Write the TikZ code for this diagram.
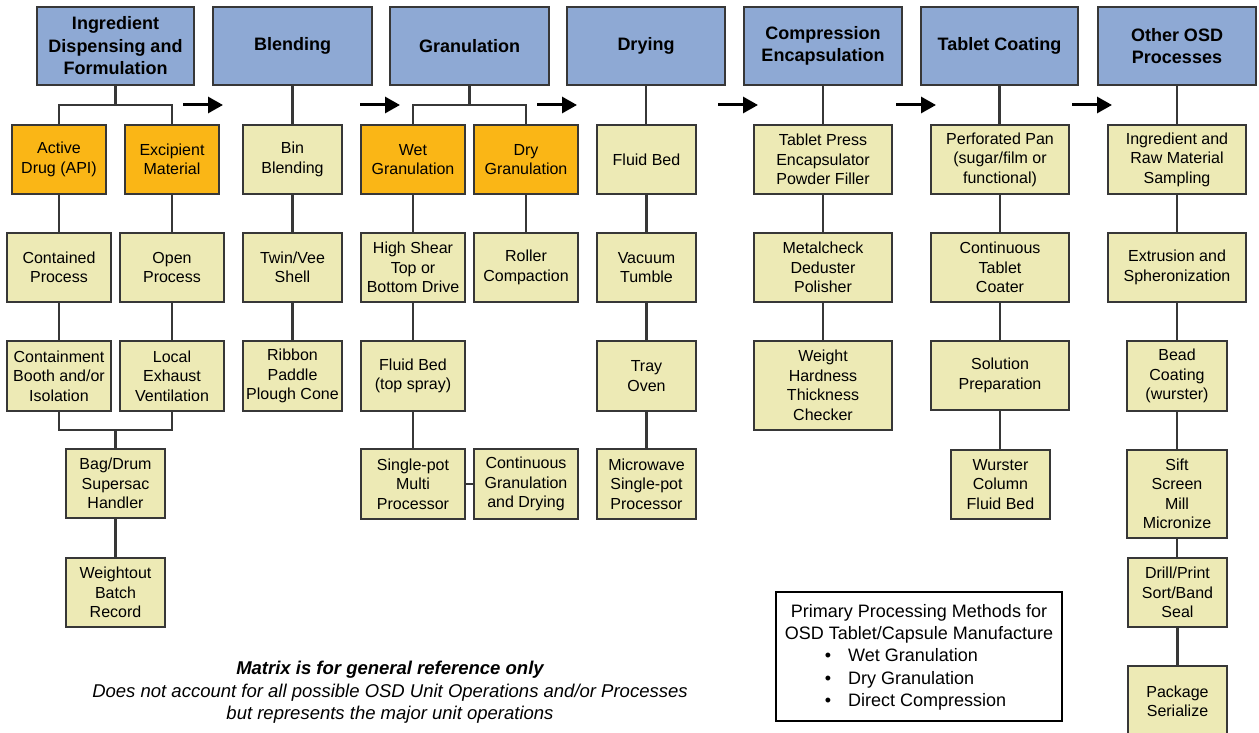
\documentclass[tikz,border=0pt]{standalone}
\usepackage{fontspec}
\setmainfont{Liberation Sans}
\usetikzlibrary{arrows.meta}
\definecolor{hblue}{RGB}{142,169,212}
\definecolor{horange}{RGB}{250,182,22}
\definecolor{hyellow}{RGB}{237,234,181}
\definecolor{hline}{RGB}{55,55,55}
\newcommand{\bx}[7]{\node[#6, minimum width={#4-#2}, minimum height={#5-#3}] (#1) at ({(#2+#4)/2},{(#3+#5)/2}) {#7};}
\newcommand{\vc}[2]{\draw[conn] (#1.south) -- (#1.south |- #2.north);}
\begin{document}
\begin{tikzpicture}[x=1pt,y=-1pt,
  base/.style={draw=hline, line width=1.4pt, inner sep=0pt, align=center, font=\fontsize{16}{19.5}\selectfont},
  hdr/.style={base, fill=hblue, font=\fontsize{18}{22.5}\selectfont\bfseries},
  org/.style={base, fill=horange},
  yel/.style={base, fill=hyellow},
  conn/.style={draw=hline, line width=2.1pt},
  arr/.style={line width=3pt, -{Triangle[length=15pt,width=16pt]}},
  txt/.style={inner sep=0pt, anchor=base}]
\useasboundingbox (0,0) rectangle (1259,733);
\fill[white] (0,0) rectangle (1259,733);
% headers
\bx{h1}{37}{7}{194}{85}{hdr}{Ingredient\\Dispensing and\\Formulation}
\bx{h2}{213}{7}{372}{85}{hdr}{Blending}
\bx{h3}{390}{7}{549}{85}{hdr}{Granulation}
\bx{h4}{567}{7}{725}{85}{hdr}{Drying}
\bx{h5}{744}{7}{902}{85}{hdr}{Compression\\Encapsulation}
\bx{h6}{921}{7}{1078}{85}{hdr}{Tablet Coating}
\bx{h7}{1098}{7}{1256}{85}{hdr}{Other OSD\\Processes}
% column 1
\bx{act}{12}{125}{106}{194}{org}{Active\\Drug (API)}
\bx{exc}{125}{125}{219}{194}{org}{Excipient\\Material}
\bx{cont}{7}{233}{111}{302}{yel}{Contained\\Process}
\bx{open}{120}{233}{224}{302}{yel}{Open\\Process}
\bx{booth}{7}{341}{111}{411}{yel}{Containment\\Booth and/or\\Isolation}
\bx{lev}{120}{341}{224}{411}{yel}{Local\\Exhaust\\Ventilation}
\bx{bag}{66}{449}{165}{518}{yel}{Bag/Drum\\Supersac\\Handler}
\bx{wgt}{66}{558}{165}{627}{yel}{Weightout\\Batch\\Record}
% column 2
\bx{bin}{243}{125}{342}{194}{yel}{Bin\\Blending}
\bx{twin}{243}{233}{342}{302}{yel}{Twin/Vee\\Shell}
\bx{rib}{243}{341}{342}{411}{yel}{Ribbon\\Paddle\\Plough Cone}
% column 3
\bx{wet}{361}{125}{465}{194}{org}{Wet\\Granulation}
\bx{dry}{474}{125}{578}{194}{org}{Dry\\Granulation}
\bx{hs}{361}{233}{465}{302}{yel}{High Shear\\Top or\\Bottom Drive}
\bx{roll}{474}{233}{578}{302}{yel}{Roller\\Compaction}
\bx{fbt}{361}{341}{465}{411}{yel}{Fluid Bed\\(top spray)}
\bx{spot}{361}{449}{465}{519}{yel}{Single-pot\\Multi\\Processor}
\bx{cgd}{474}{449}{578}{519}{yel}{Continuous\\Granulation\\and Drying}
% column 4
\bx{fb}{597}{125}{696}{194}{yel}{Fluid Bed}
\bx{vac}{597}{233}{696}{302}{yel}{Vacuum\\Tumble}
\bx{tray}{597}{341}{696}{411}{yel}{Tray\\Oven}
\bx{mw}{597}{449}{696}{519}{yel}{Microwave\\Single-pot\\Processor}
% column 5
\bx{tp}{754}{125}{892}{194}{yel}{Tablet Press\\Encapsulator\\Powder Filler}
\bx{mc}{754}{233}{892}{302}{yel}{Metalcheck\\Deduster\\Polisher}
\bx{whc}{754}{341}{892}{430}{yel}{Weight\\Hardness\\Thickness\\Checker}
% column 6
\bx{pp}{931}{125}{1069}{194}{yel}{Perforated Pan\\(sugar/film or\\functional)}
\bx{ctc}{931}{233}{1069}{302}{yel}{Continuous\\Tablet\\Coater}
\bx{sol}{931}{341}{1069}{410}{yel}{Solution\\Preparation}
\bx{wur}{951}{450}{1050}{519}{yel}{Wurster\\Column\\Fluid Bed}
% column 7
\bx{irm}{1108}{125}{1246}{194}{yel}{Ingredient and\\Raw Material\\Sampling}
\bx{ext}{1108}{233}{1246}{302}{yel}{Extrusion and\\Spheronization}
\bx{bead}{1127}{341}{1227}{411}{yel}{Bead\\Coating\\(wurster)}
\bx{sift}{1127}{450}{1227}{538}{yel}{Sift\\Screen\\Mill\\Micronize}
\bx{drill}{1128}{558}{1227}{627}{yel}{Drill/Print\\Sort/Band\\Seal}
\bx{pkg}{1128}{666}{1227}{737}{yel}{Package\\Serialize}
% connectors column 1
\coordinate (b1) at (115.5,105);
\draw[conn] (h1.south) -- (b1);
\draw[conn] (act.north) |- (b1) -| (exc.north);
\vc{act}{cont} \vc{exc}{open} \vc{cont}{booth} \vc{open}{lev}
\coordinate (m1) at (115.5,430);
\draw[conn] (booth.south) |- (m1) -| (lev.south);
\draw[conn] (m1) -- (bag.north);
\vc{bag}{wgt}
% column 2
\vc{h2}{bin} \vc{bin}{twin} \vc{twin}{rib}
% column 3
\coordinate (b3) at (469.5,105);
\draw[conn] (h3.south) -- (b3);
\draw[conn] (wet.north) |- (b3) -| (dry.north);
\vc{wet}{hs} \vc{hs}{fbt} \vc{fbt}{spot} \vc{dry}{roll}
\draw[conn] (spot.east) -- (cgd.west);
% column 4
\vc{h4}{fb} \vc{fb}{vac} \vc{vac}{tray} \vc{tray}{mw}
% column 5
\vc{h5}{tp} \vc{tp}{mc} \vc{mc}{whc}
% column 6
\vc{h6}{pp} \vc{pp}{ctc} \vc{ctc}{sol} \vc{sol}{wur}
% column 7
\vc{h7}{irm} \vc{irm}{ext} \vc{ext}{bead} \vc{bead}{sift} \vc{sift}{drill} \vc{drill}{pkg}
% flow arrows
\coordinate (a1s) at (183,105); \coordinate (a1e) at (223,105);
\coordinate (a2s) at (360,105); \coordinate (a2e) at (400,105);
\coordinate (a3s) at (537,105); \coordinate (a3e) at (577,105);
\coordinate (a4s) at (718,105); \coordinate (a4e) at (758,105);
\coordinate (a5s) at (896,105); \coordinate (a5e) at (936,105);
\coordinate (a6s) at (1072,105); \coordinate (a6e) at (1112,105);
\draw[arr] (a1s) -- (a1e);
\draw[arr] (a2s) -- (a2e);
\draw[arr] (a3s) -- (a3e);
\draw[arr] (a4s) -- (a4e);
\draw[arr] (a5s) -- (a5e);
\draw[arr] (a6s) -- (a6e);
% legend
\node[draw=black, line width=1.4pt, minimum width=286, minimum height=129, inner sep=0pt] (leg) at (919,656.5) {};
\begin{scope}[font=\fontsize{18}{22}\selectfont]
\node[txt] (l1) at (919,617.5) {Primary Processing Methods for};
\node[txt] (l2) at (919,639.5) {OSD Tablet/Capsule Manufacture};
\node[txt] (bu1) at (828,661.5) {•};
\node[txt] (bu2) at (828,684.5) {•};
\node[txt] (bu3) at (828,706.5) {•};
\node[txt, anchor=base west] (l3) at (848,661.5) {Wet Granulation};
\node[txt, anchor=base west] (l4) at (848,684.5) {Dry Granulation};
\node[txt, anchor=base west] (l5) at (848,706.5) {Direct Compression};
\end{scope}
% note
\begin{scope}[font=\fontsize{18.5}{22}\selectfont\itshape]
\node[txt, font=\fontsize{18.5}{22}\selectfont\bfseries\itshape] (n1) at (390,674.5) {Matrix is for general reference only};
\node[txt] (n2) at (390,697.5) {Does not account for all possible OSD Unit Operations and/or Processes};
\node[txt] (n3) at (390,719.5) {but represents the major unit operations};
\end{scope}
\end{tikzpicture}
\end{document}
